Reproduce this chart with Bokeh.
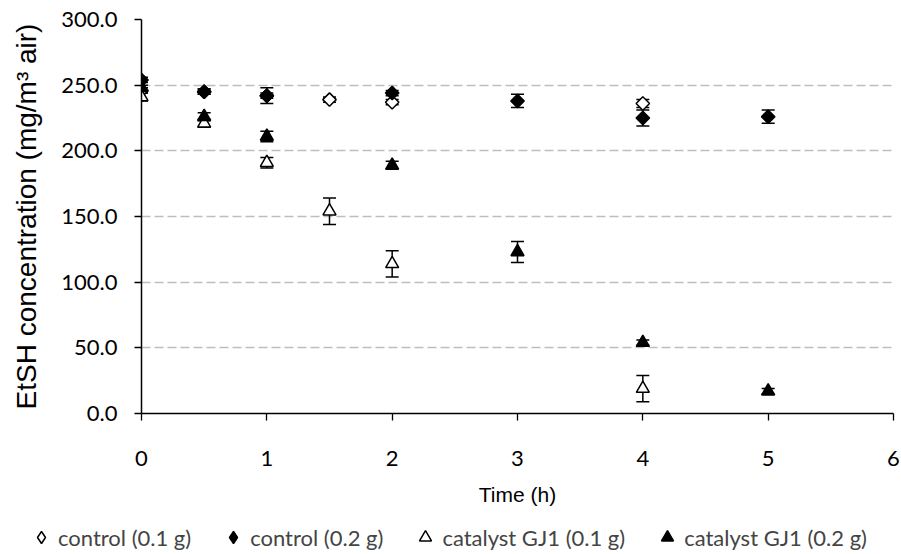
import numpy as np
from bokeh.plotting import figure
from bokeh.layouts import column
from bokeh.models import (ColumnDataSource, Whisker, TeeHead, Legend, LegendItem,
                          NumeralTickFormatter, FixedTicker, Range1d)
from bokeh.embed import file_html
from bokeh.resources import INLINE

# ---- data ----
t_c01 = [0, 0.5, 1, 1.5, 2, 4]
y_c01 = [246, 245, 242, 239, 237, 236]
e_c01 = [2, 2, 2, 2, 2, 3]

t_c02 = [0, 0.5, 1, 2, 3, 4, 5]
y_c02 = [254, 245, 242, 244, 238, 225, 226]
e_c02 = [2, 2, 6, 2, 5, 6, 5]

t_k01 = [0, 0.5, 1, 1.5, 2, 4]
y_k01 = [241, 221, 191, 154, 114, 19]
e_k01 = [3, 3, 4, 10, 10, 10]

t_k02 = [0, 0.5, 1, 2, 3, 4, 5]
y_k02 = [248, 226, 211, 189, 123, 54, 17]
e_k02 = [2, 3, 4, 3, 8, 2, 2]

labels = ["control (0.1 g)", "control (0.2 g)", "catalyst GJ1 (0.1 g)", "catalyst GJ1 (0.2 g)"]
x_ticks = [0, 1, 2, 3, 4, 5, 6]
y_ticks = [0, 50, 100, 150, 200, 250, 300]

TICK_FONT = "Lato"
LABEL_FONT = "Liberation Sans"

p = figure(width=901, height=516, x_range=Range1d(0, 6), y_range=Range1d(0, 300),
           output_backend="svg", toolbar_location=None,
           min_border_left=141, min_border_right=8, min_border_top=19, min_border_bottom=103)
p.frame_align = False
p.outline_line_color = None
p.background_fill_color = "white"

p.xgrid.visible = False
p.ygrid.grid_line_color = "#BEBEBE"
p.ygrid.grid_line_dash = "9 4"
p.ygrid.grid_line_width = 1.3

p.xaxis.ticker = FixedTicker(ticks=x_ticks)
p.yaxis.ticker = FixedTicker(ticks=y_ticks)
p.yaxis.formatter = NumeralTickFormatter(format="0.0")
for ax in (p.xaxis[0], p.yaxis[0]):
    ax.axis_line_color = "black"
    ax.axis_line_width = 1.5
    ax.major_tick_line_color = "black"
    ax.major_tick_line_width = 1.3
    ax.major_tick_in = 0
    ax.major_tick_out = 7
    ax.minor_tick_line_color = None
    ax.major_label_text_font = TICK_FONT
    ax.major_label_text_font_size = "22px"
    ax.major_label_text_color = "black"
    ax.axis_label_text_font = LABEL_FONT
    ax.axis_label_text_font_style = "normal"
    ax.axis_label_text_color = "black"
p.xaxis.axis_label = "Time (h)"
p.yaxis.axis_label = "EtSH concentration (mg/m³ air)"
p.xaxis.axis_label_text_font_size = "21px"
p.yaxis.axis_label_text_font_size = "28px"
p.xaxis.major_label_standoff = 30
p.yaxis.major_label_standoff = 17
p.xaxis.axis_label_standoff = 14
p.yaxis.axis_label_standoff = 16

# legend strip below the chart
lf = figure(width=901, height=38, x_range=Range1d(1000, 1001), y_range=Range1d(1000, 1001),
            output_backend="svg", toolbar_location=None, x_axis_type=None, y_axis_type=None,
            min_border_left=0, min_border_right=0, min_border_top=0, min_border_bottom=0)
lf.frame_align = False
lf.outline_line_color = None
lf.xgrid.visible = False
lf.ygrid.visible = False

def series(t, y, e, marker, legend_marker, filled, size, angle=0.0):
    src = ColumnDataSource(dict(x=t, y=y, lo=[a - b for a, b in zip(y, e)], hi=[a + b for a, b in zip(y, e)]))
    w = Whisker(source=src, base="x", lower="lo", upper="hi", line_color="black", line_width=1.5,
                upper_head=TeeHead(size=13, line_color="black", line_width=1.5),
                lower_head=TeeHead(size=13, line_color="black", line_width=1.5))
    p.add_layout(w)
    kw = dict(fill_color="black" if filled else "white", line_color="black", line_width=1.5)
    p.scatter("x", "y", source=src, size=size, marker=marker, angle=angle, **kw)
    return lf.scatter("x", "y", source=src, size=size, marker=legend_marker, **kw)

r1 = series(t_c01, y_c01, e_c01, "square", "diamond", False, 9.5, np.pi / 4)
r2 = series(t_c02, y_c02, e_c02, "square", "diamond", True, 9.5, np.pi / 4)
r3 = series(t_k01, y_k01, e_k01, "triangle", "triangle", False, 13)
r4 = series(t_k02, y_k02, e_k02, "triangle", "triangle", True, 13)

legend = Legend(items=[LegendItem(label=l, renderers=[r]) for l, r in zip(labels, [r1, r2, r3, r4])],
                orientation="horizontal", location=(26, 2))
legend.border_line_color = None
legend.background_fill_alpha = 0
legend.label_text_font = TICK_FONT
legend.label_text_font_size = "22px"
legend.glyph_width = 30
legend.glyph_height = 30
legend.label_standoff = 2
legend.spacing = 27
legend.padding = 0
legend.margin = 0
legend.label_height = 30
lf.add_layout(legend, "center")

layout = column(p, lf, spacing=0)
open("out.html", "w").write(file_html(layout, INLINE))
